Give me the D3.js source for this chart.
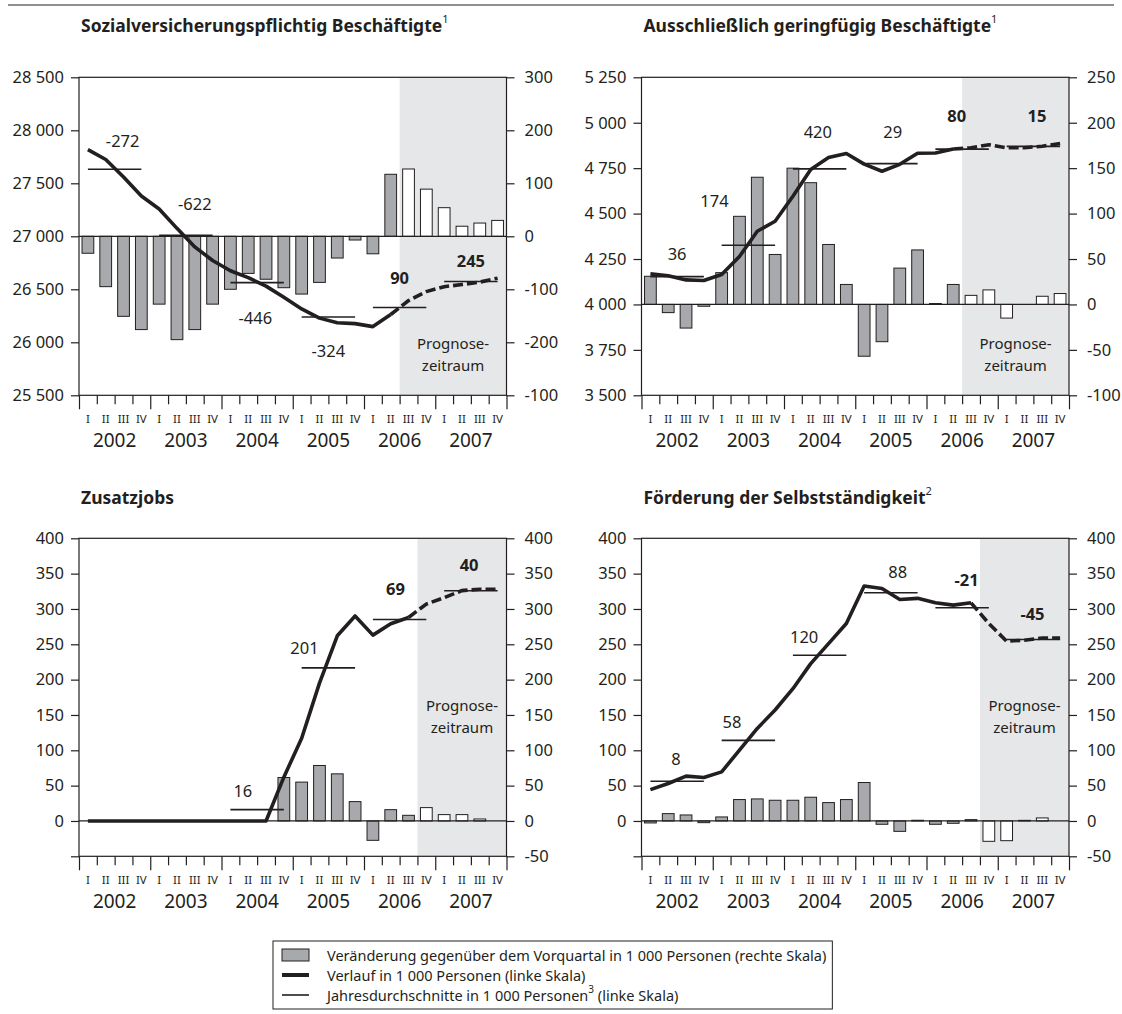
<!DOCTYPE html>
<html>
<head>
<meta charset="utf-8">
<script src="https://cdn.jsdelivr.net/npm/d3@7"></script>
<style>
  body { margin: 0; background: #fff; }
  text { font-family: "Noto Sans", sans-serif; fill: #231f20; }
</style>
</head>
<body>
<div id="chart"></div>
<script>
// ---------------- data ----------------
var years = ["2002", "2003", "2004", "2005", "2006", "2007"];
var quarterLabels = ["I", "II", "III", "IV"];

// Sozialversicherungspflichtig Beschäftigte
var svbLevel = [27818, 27725, 27560, 27380, 27258, 27075, 26900, 26772, 26675, 26610, 26530, 26425,
                26315, 26228, 26184, 26176, 26148, 26262, 26393, 26478, 26525, 26545, 26568, 26605];
var svbChange = [-32, -95, -151, -176, -128, -195, -176, -128, -100, -70, -81, -97,
                 -109, -87, -41, -7, -33, 117, 127, 89, 54, 19, 25, 30];
var svbAvg = [27633, 27010, 26563, 26238, 26328, 26573];
var svbAvgText = ["-272", "-622", "-446", "-324", "90", "245"];
var svbTextQ = [2.45, 6.5, 9.9, 14.0, 18.0, 22.0];
var svbTextV = [27908, 27305, 26230, 25927, 26607, 26776];
var svbLeftTicks = [25500, 26000, 26500, 27000, 27500, 28000, 28500];
var svbRightTicks = [-300, -200, -100, 0, 100, 200, 300];
var svbRightText = ["-100", "-200", "-100", "0", "100", "200", "300"];

// Ausschließlich geringfügig Beschäftigte
var gebLevel = [4168, 4158, 4135, 4132, 4165, 4264, 4403, 4458, 4595, 4743, 4808, 4831,
                4772, 4733, 4771, 4832, 4833, 4855, 4862, 4879, 4862, 4862, 4871, 4886];
var gebChange = [31, -9, -26, -2, 35, 97, 140, 55, 150, 134, 66, 22,
                 -57, -41, 40, 60, 1, 22, 10, 16, -15, 0, 9, 12];
var gebAvg = [4153, 4326, 4746, 4775, 4855, 4870];
var gebAvgText = ["36", "174", "420", "29", "80", "15"];
var gebTextQ = [2.0, 4.1, 9.9, 14.1, 17.7, 22.2];
var gebTextV = [4281, 4570, 4953, 4953, 5040, 5040];
var gebLeftTicks = [3500, 3750, 4000, 4250, 4500, 4750, 5000, 5250];
var gebRightTicks = [-100, -50, 0, 50, 100, 150, 200, 250];

// Zusatzjobs
var zusLevel = [0, 0, 0, 0, 0, 0, 0, 0, 0, 0, 0, 62,
                117, 195, 262, 290, 263, 279, 288, 307, 316, 326, 328, 328];
var zusChange = [0, 0, 0, 0, 0, 0, 0, 0, 0, 0, 0, 61.5,
                 55, 78.5, 66.7, 27.4, -27.4, 16, 8, 18.9, 9, 9, 2.8, 0];
var zusAvg = [null, null, 16, 216.6, 285, 325.8];
var zusAvgText = ["", "", "16", "201", "69", "40"];
var zusTextQ = [0, 0, 9.2, 12.66, 17.77, 21.9];
var zusTextV = [0, 0, 43.5, 245, 329, 363];

// Förderung der Selbstständigkeit
var selLevel = [44.4, 53, 63.4, 61.5, 69.5, 100.2, 131, 157, 187.2, 222.7, 251, 279.4,
                332.4, 329, 313.5, 315, 308.7, 305.4, 308.7, 279.4, 254.4, 255.8, 259, 259];
var selChange = [-2.8, 10.4, 8.5, -2.4, 5.7, 30.3, 31.2, 29.3, 29.3, 33.6, 26, 30.3,
                 54.4, -4.7, -14.7, 1, -4.7, -3.3, 1.9, -28.8, -27.9, 0.9, 4.3, 0];
var selAvg = [56.3, 114, 234.5, 322.9, 301.7, 256.7];
var selAvgText = ["8", "58", "120", "88", "-21", "-45"];
var selTextQ = [1.94, 5.08, 9.13, 14.38, 18.25, 21.95];
var selTextV = [88.4, 140.4, 260.5, 353.7, 341.8, 293.6];

var jobsTicks = [-50, 0, 50, 100, 150, 200, 250, 300, 350, 400];

var legendText = [
  "Veränderung gegenüber dem Vorquartal in 1 000 Personen (rechte Skala)",
  "Verlauf in 1 000 Personen (linke Skala)",
  "Jahresdurchschnitte in 1 000 Personen"
];

// ---------------- layout ----------------
var width = 1122, height = 1014;
var plotW = 427.5, plotH = 318;
var ink = "#231f20";

var de = d3.formatLocale({decimal: ",", thousands: " ", grouping: [3], currency: ["", ""], minus: "-"});
var fmtNum = de.format(",");

var svg = d3.select("#chart").append("svg")
  .attr("width", width)
  .attr("height", height);

svg.append("rect").attr("width", width).attr("height", height).attr("fill", "#fff");

// rule on top
svg.append("line")
  .attr("x1", 8).attr("x2", 1114)
  .attr("y1", 5).attr("y2", 5)
  .attr("stroke", ink).attr("stroke-width", 1);

var panels = [
  {title: "Sozialversicherungspflichtig Beschäftigte", sup: "1", left: 79, top: 77.3, titleGap: 52,
   level: svbLevel, change: svbChange, avg: svbAvg, avgText: svbAvgText, textQ: svbTextQ, textV: svbTextV,
   leftDomain: [25500, 28500], rightDomain: [-300, 300],
   leftTicks: svbLeftTicks, rightTicks: svbRightTicks, rightText: svbRightText,
   fc: 18, progY: 0.14},
  {title: "Ausschließlich geringfügig Beschäftigte", sup: "1", left: 641.5, top: 77.3, titleGap: 52,
   level: gebLevel, change: gebChange, avg: gebAvg, avgText: gebAvgText, textQ: gebTextQ, textV: gebTextV,
   leftDomain: [3500, 5250], rightDomain: [-100, 250],
   leftTicks: gebLeftTicks, rightTicks: gebRightTicks, rightText: null,
   fc: 18, progY: 0.14},
  {title: "Zusatzjobs", sup: "", left: 79, top: 538.3, titleGap: 41,
   level: zusLevel, change: zusChange, avg: zusAvg, avgText: zusAvgText, textQ: zusTextQ, textV: zusTextV,
   leftDomain: [-50, 400], rightDomain: [-50, 400],
   leftTicks: jobsTicks, rightTicks: jobsTicks, rightText: null, hideLeftMin: true,
   fc: 19, progY: 0.45},
  {title: "Förderung der Selbstständigkeit", sup: "2", left: 641.5, top: 538.3, titleGap: 41,
   level: selLevel, change: selChange, avg: selAvg, avgText: selAvgText, textQ: selTextQ, textV: selTextV,
   leftDomain: [-50, 400], rightDomain: [-50, 400],
   leftTicks: jobsTicks, rightTicks: jobsTicks, rightText: null, hideLeftMin: true,
   fc: 19, progY: 0.45}
];

panels.forEach(drawPanel);

function drawPanel(cfg) {
  var g = svg.append("g");
  var bottom = cfg.top + plotH;
  var x = d3.scaleLinear().domain([0, 24]).range([cfg.left, cfg.left + plotW]);
  var yL = d3.scaleLinear().domain(cfg.leftDomain).range([bottom, cfg.top]);
  var yR = d3.scaleLinear().domain(cfg.rightDomain).range([bottom, cfg.top]);
  var qw = x(1) - x(0);
  var bw = qw * 0.66;

  // title
  var t = g.append("text")
    .attr("x", cfg.left + 2)
    .attr("y", cfg.top - cfg.titleGap)
    .attr("dominant-baseline", "central")
    .attr("font-size", 17.5)
    .attr("font-weight", "bold")
    .text(cfg.title);
  if (cfg.sup) {
    t.append("tspan").attr("dy", -7).attr("font-size", 11).attr("font-weight", "normal").text(cfg.sup);
  }

  // forecast shading
  g.append("rect")
    .attr("x", x(cfg.fc)).attr("y", cfg.top)
    .attr("width", x(24) - x(cfg.fc)).attr("height", plotH)
    .attr("fill", "#e6e7e8");

  var progX = (x(cfg.fc) + x(24)) / 2;
  var progTop = bottom - plotH * cfg.progY - 8;
  g.append("text").attr("x", progX).attr("y", progTop)
    .attr("text-anchor", "middle").attr("dominant-baseline", "central")
    .attr("font-size", 15).text("Prognose-");
  g.append("text").attr("x", progX).attr("y", progTop + 22)
    .attr("text-anchor", "middle").attr("dominant-baseline", "central")
    .attr("font-size", 15).text("zeitraum");

  // bars: change vs. previous quarter (right scale)
  var barData = cfg.change.map(function(v, i) { return {v: v, i: i}; })
    .filter(function(d) { return d.v !== 0; });
  g.selectAll(".bar")
    .data(barData)
    .enter().append("rect")
    .attr("class", "bar")
    .attr("x", function(d) { return x(d.i + 0.5) - bw / 2; })
    .attr("y", function(d) { return yR(Math.max(0, d.v)); })
    .attr("width", bw)
    .attr("height", function(d) { return Math.abs(yR(d.v) - yR(0)); })
    .attr("fill", function(d) { return d.i >= cfg.fc ? "#fff" : "#a7a9ac"; })
    .attr("stroke", ink)
    .attr("stroke-width", 1);

  // zero line
  g.append("line")
    .attr("x1", x(0)).attr("x2", x(24))
    .attr("y1", yR(0)).attr("y2", yR(0))
    .attr("stroke", ink).attr("stroke-width", 1.2);

  // yearly averages (left scale)
  cfg.avg.forEach(function(v, j) {
    if (v === null) return;
    g.append("line")
      .attr("x1", x(4 * j + 0.5)).attr("x2", x(4 * j + 3.5))
      .attr("y1", yL(v)).attr("y2", yL(v))
      .attr("stroke", ink).attr("stroke-width", 1.6);
  });

  // level line (left scale), dashed in forecast
  var line = d3.line()
    .x(function(d) { return x(d.i + 0.5); })
    .y(function(d) { return yL(d.v); });
  var pts = cfg.level.map(function(v, i) { return {v: v, i: i}; });
  g.append("path")
    .attr("d", line(pts.slice(0, cfg.fc)))
    .attr("fill", "none").attr("stroke", ink)
    .attr("stroke-width", 3.6).attr("stroke-linejoin", "round");
  g.append("path")
    .attr("d", line(pts.slice(cfg.fc - 1)))
    .attr("fill", "none").attr("stroke", ink)
    .attr("stroke-width", 3.6).attr("stroke-dasharray", "10,4");

  // annual change labels
  cfg.avgText.forEach(function(s, j) {
    if (!s) return;
    g.append("text")
      .attr("x", x(cfg.textQ[j]))
      .attr("y", yL(cfg.textV[j]))
      .attr("text-anchor", "middle")
      .attr("dominant-baseline", "central")
      .attr("font-size", 16.5)
      .attr("font-weight", j >= 4 ? "bold" : "normal")
      .text(s);
  });

  // frame
  g.append("rect")
    .attr("x", x(0)).attr("y", cfg.top)
    .attr("width", plotW).attr("height", plotH)
    .attr("fill", "none").attr("stroke", ink).attr("stroke-width", 1.2);

  // left axis
  var leftAxis = d3.axisLeft(yL)
    .tickValues(cfg.leftTicks)
    .tickSize(8).tickSizeOuter(0).tickPadding(7)
    .tickFormat(function(d) { return (cfg.hideLeftMin && d === cfg.leftDomain[0]) ? "" : fmtNum(d); });
  g.append("g")
    .attr("transform", "translate(" + x(0) + ",0)")
    .call(leftAxis)
    .call(styleAxis);

  // right axis
  var rightAxis = d3.axisRight(yR)
    .tickValues(cfg.rightTicks)
    .tickSize(8).tickSizeOuter(0).tickPadding(10)
    .tickFormat(function(d, i) { return cfg.rightText ? cfg.rightText[i] : fmtNum(d); });
  g.append("g")
    .attr("transform", "translate(" + x(24) + ",0)")
    .call(rightAxis)
    .call(styleAxis);

  // bottom axis: quarter ticks, longer at year boundaries
  var bottomAxis = d3.axisBottom(x)
    .tickValues(d3.range(25))
    .tickSize(9).tickSizeOuter(0)
    .tickFormat("");
  g.append("g")
    .attr("transform", "translate(0," + bottom + ")")
    .call(bottomAxis)
    .call(styleAxis)
    .selectAll(".tick line")
    .attr("y2", function(d) { return d % 4 === 0 ? 14 : 9; });

  // quarter and year labels
  d3.range(24).forEach(function(i) {
    g.append("text")
      .attr("x", x(i + 0.5)).attr("y", bottom + 23)
      .attr("text-anchor", "middle").attr("dominant-baseline", "central")
      .attr("font-size", 11.5)
      .text(quarterLabels[i % 4]);
  });
  years.forEach(function(yr, j) {
    g.append("text")
      .attr("x", x(4 * j + 2)).attr("y", bottom + 45)
      .attr("text-anchor", "middle").attr("dominant-baseline", "central")
      .attr("font-size", 19)
      .text(yr);
  });
}

function styleAxis(sel) {
  sel.select(".domain").remove();
  sel.attr("font-family", "Noto Sans, sans-serif").attr("font-size", 16.5);
  sel.selectAll(".tick line").attr("stroke", ink).attr("stroke-width", 1.2);
  sel.selectAll(".tick text").attr("fill", ink);
}

// ---------------- legend ----------------
var lg = svg.append("g");
var lgX = 273, lgY = 941, lgRow = 20;
var lgBox = lg.append("rect")
  .attr("x", lgX).attr("y", lgY)
  .attr("height", 3 * lgRow + 8)
  .attr("fill", "#fff").attr("stroke", ink).attr("stroke-width", 1);

lg.append("rect")
  .attr("x", lgX + 9).attr("y", lgY + 4 + lgRow * 0.5 - 6)
  .attr("width", 27).attr("height", 12)
  .attr("fill", "#a7a9ac").attr("stroke", ink).attr("stroke-width", 1);
lg.append("line")
  .attr("x1", lgX + 9).attr("x2", lgX + 36)
  .attr("y1", lgY + 4 + lgRow * 1.5).attr("y2", lgY + 4 + lgRow * 1.5)
  .attr("stroke", ink).attr("stroke-width", 4);
lg.append("line")
  .attr("x1", lgX + 9).attr("x2", lgX + 36)
  .attr("y1", lgY + 4 + lgRow * 2.5).attr("y2", lgY + 4 + lgRow * 2.5)
  .attr("stroke", ink).attr("stroke-width", 1.6);

var maxW = 0;
legendText.forEach(function(s, i) {
  var tx = lg.append("text")
    .attr("x", lgX + 54)
    .attr("y", lgY + 4 + lgRow * (i + 0.5))
    .attr("dominant-baseline", "central")
    .attr("font-size", 14.5)
    .text(s);
  if (i === 2) {
    tx.append("tspan").attr("dy", -6).attr("font-size", 10).text("3");
    tx.append("tspan").attr("dy", 6).text(" (linke Skala)");
  }
  maxW = Math.max(maxW, tx.node().getComputedTextLength());
});
lgBox.attr("width", 54 + maxW + 6);
</script>
</body>
</html>
